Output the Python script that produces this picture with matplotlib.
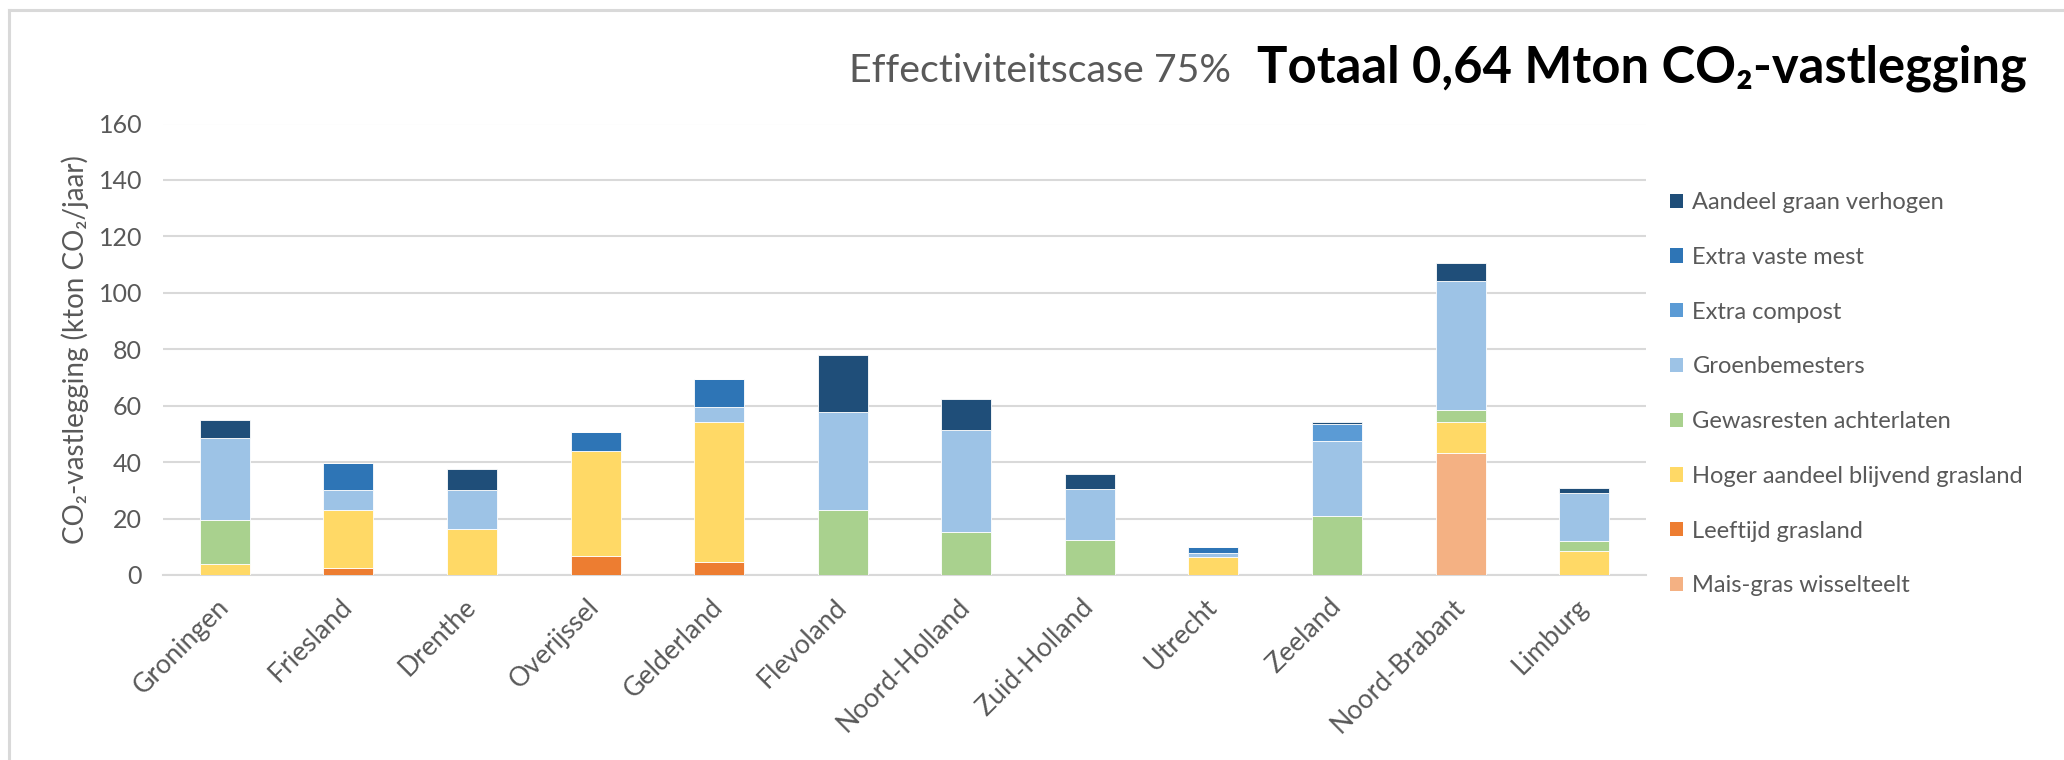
import numpy as np
import matplotlib.pyplot as plt
from matplotlib.patches import Patch
from matplotlib.lines import Line2D

plt.rcParams['font.family'] = ['Lato', 'DejaVu Sans']

# Data (kton CO2/jaar)
provinces = ['Groningen', 'Friesland', 'Drenthe', 'Overijssel', 'Gelderland', 'Flevoland',
             'Noord-Holland', 'Zuid-Holland', 'Utrecht', 'Zeeland', 'Noord-Brabant', 'Limburg']

mais_gras = [0, 0, 0, 0, 0, 0, 0, 0, 0, 0, 43.4, 0]
leeftijd = [0, 2.4, 0, 6.7, 4.6, 0, 0, 0, 0, 0, 0, 0]
hoger_aandeel = [3.9, 20.7, 16.2, 37.2, 49.5, 0, 0, 0, 6.5, 0, 10.7, 8.6]
gewasresten = [15.6, 0, 0, 0, 0, 23.1, 15.2, 12.4, 0, 21.0, 4.2, 3.5]
groenbemesters = [29.1, 7.1, 14.0, 0, 5.3, 34.7, 36.2, 18.0, 1.2, 26.6, 45.8, 16.9]
extra_compost = [0, 0, 0, 0, 0, 0, 0, 0, 0, 5.9, 0, 0]
extra_mest = [0, 9.5, 0, 6.9, 10.1, 0, 0, 0, 2.1, 0, 0, 0]
graan = [6.5, 0, 7.3, 0, 0, 20.2, 11.1, 5.5, 0, 0.6, 6.4, 1.7]

# bottom to top
series = [
    ('Mais-gras wisselteelt', mais_gras, '#F4B183'),
    ('Leeftijd grasland', leeftijd, '#ED7D31'),
    ('Hoger aandeel blijvend grasland', hoger_aandeel, '#FFD966'),
    ('Gewasresten achterlaten', gewasresten, '#A9D18E'),
    ('Groenbemesters', groenbemesters, '#9DC3E6'),
    ('Extra compost', extra_compost, '#5B9BD5'),
    ('Extra vaste mest', extra_mest, '#2E75B6'),
    ('Aandeel graan verhogen', graan, '#1F4E79'),
]

grey = '#595959'
W, H = 2064, 760
fig = plt.figure(figsize=(W / 100, H / 100), dpi=100)
ax = fig.add_axes([163 / W, 1 - 575 / H, (1646 - 163) / W, (575 - 123.5) / H])

x = np.arange(len(provinces))
bottom = np.zeros(len(provinces))
for name, vals, col in series:
    vals = np.array(vals, dtype=float)
    ax.bar(x, vals, 0.405, bottom=bottom, color=col, edgecolor='white', linewidth=0.6, zorder=3)
    bottom += vals

ax.set_xlim(-0.5, len(provinces) - 0.5)
ax.set_ylim(0, 160)
ax.set_yticks(range(0, 161, 20))
ax.yaxis.grid(True, color='#D9D9D9', linewidth=1.5, zorder=0)
ax.set_axisbelow(True)
for s in ['top', 'right', 'left']:
    ax.spines[s].set_visible(False)
ax.spines['bottom'].set_color('#D9D9D9')
ax.spines['bottom'].set_linewidth(1.5)
ax.tick_params(axis='both', length=0, labelcolor=grey)
ax.tick_params(axis='y', pad=15, labelsize=18)
ax.set_xticks(x)
ax.set_xticklabels(provinces, rotation=45, ha='right', va='center', rotation_mode='anchor',
                   fontsize=19.2)
ax.tick_params(axis='x', pad=20)

fig.text(75 / W, 1 - 350 / H, 'CO₂-vastlegging (kton CO₂/jaar)', rotation=90,
         ha='center', va='center', fontsize=20, color=grey)

# titles
fig.text(849 / W, 1 - 82 / H, 'Effectiviteitscase 75%', ha='left', va='baseline',
         fontsize=28.4, color=grey)
fig.text(1257 / W, 1 - 83 / H, 'Totaal 0,64 Mton CO₂-vastlegging', ha='left', va='baseline',
         fontsize=36.5, fontweight='bold', color='black')

# legend, top entry first
handles = [Patch(facecolor=col, edgecolor='none') for name, vals, col in reversed(series)]
labels = [name for name, vals, col in reversed(series)]
fig.legend(handles, labels, loc='upper left', bbox_to_anchor=(1670 / W, 1 - 192 / H),
           frameon=False, fontsize=17, labelcolor=grey, handlelength=0.55, handleheight=0.55,
           handletextpad=0.4, labelspacing=1.43, borderpad=0, borderaxespad=0)

# chart frame
fig.add_artist(Line2D([9 / W, 9 / W], [0, 1 - 10 / H], color='#D9D9D9', linewidth=2.2))
fig.add_artist(Line2D([9 / W, 1], [1 - 10 / H, 1 - 10 / H], color='#D9D9D9', linewidth=2.2))

fig.savefig('out.png', dpi=100)
